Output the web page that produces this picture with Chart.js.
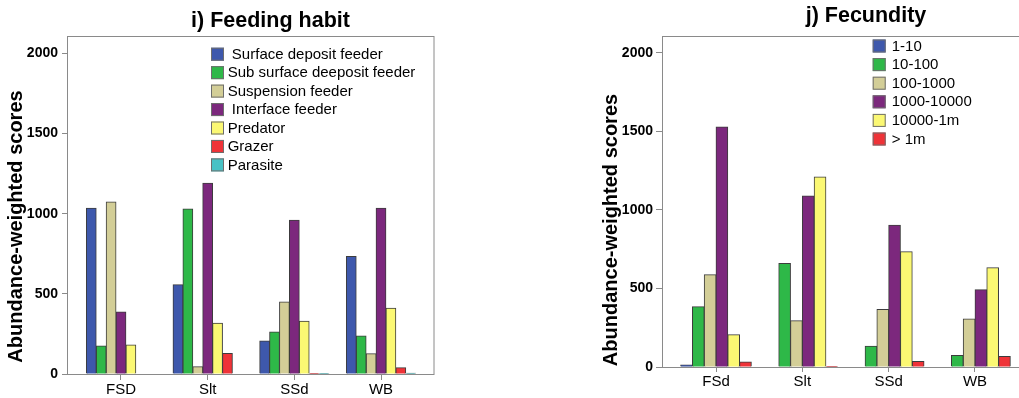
<!DOCTYPE html>
<html>
<head>
<meta charset="utf-8">
<script src="https://cdn.jsdelivr.net/npm/chart.js@4.4.0/dist/chart.umd.min.js"></script>
<style>
    html, body { margin: 0; padding: 0; background: #fff; overflow: hidden; width: 1019px; height: 398px; }
    #feedingChart { position: absolute; left: 0; top: 0; }
    #fecundityChart { position: absolute; left: 590px; top: 0; }
</style>
</head>
<body>
<canvas id="feedingChart" width="541" height="398"></canvas>
<canvas id="fecundityChart" width="480" height="398"></canvas>
<script>
// i) Feeding habit
const feedingSites = ['FSD', 'Slt', 'SSd', 'WB'];
const surfaceDeposit = [1035, 558, 206, 733];
const subSurfaceDeposit = [175, 1029, 262, 237];
const suspension = [1073, 46, 450, 127];
const interfaceFeeder = [387, 1190, 960, 1035];
const predator = [181, 317, 329, 410];
const grazer = [0, 129, 2, 40];
const parasite = [0, 0, 2, 5];

// j) Fecundity
const fecunditySites = ['FSd', 'Slt', 'SSd', 'WB'];
const fec1to10 = [13, 0, 0, 0];
const fec10to100 = [384, 660, 132, 74];
const fec100to1000 = [588, 295, 367, 306];
const fec1000to10000 = [1529, 1089, 904, 493];
const fec10000to1m = [206, 1210, 735, 633];
const fecOver1m = [32, 4, 36, 68];

const yTicks = [0, 500, 1000, 1500, 2000];

const FONT = "'Liberation Sans', Arial, sans-serif";
const AXIS_GRAY = '#8a8a8a';

// titles, y label, frame and legend are drawn here so they can sit where SPSS put them
const decorPlugin = {
    id: 'decor',
    beforeDatasetsDraw(chart, args, o) {
        const { ctx, chartArea: a } = chart;
        ctx.save();
        ctx.strokeStyle = AXIS_GRAY;
        ctx.lineWidth = 1;
        ctx.strokeRect(a.left - 0.5, a.top + 0.5, a.right - a.left + 0.5, a.bottom - a.top);
        ctx.restore();
    },
    afterDraw(chart, args, o) {
        const ctx = chart.ctx;
        ctx.save();
        ctx.fillStyle = '#000';

        ctx.font = 'bold 21.5px ' + FONT;
        ctx.textAlign = 'center';
        ctx.textBaseline = 'middle';
        ctx.fillText(o.title, o.titleX, o.titleY);

        ctx.save();
        ctx.translate(o.yLabelX, o.yLabelY);
        ctx.rotate(-Math.PI / 2);
        ctx.font = 'bold 20px ' + FONT;
        ctx.fillText('Abundance-weighted scores', 0, 0);
        ctx.restore();

        ctx.font = '15px ' + FONT;
        ctx.textAlign = 'left';
        chart.data.datasets.forEach((ds, i) => {
            const cy = o.legendY + i * o.legendRow;
            ctx.fillStyle = ds.backgroundColor;
            ctx.fillRect(o.legendX, cy - 6.5, 13, 13);
            ctx.strokeStyle = '#6e6e6e';
            ctx.strokeRect(o.legendX + 0.5, cy - 6, 12, 12);
            ctx.fillStyle = '#000';
            ctx.fillText(ds.label, o.legendTextX, cy + 0.5);
        });
        ctx.restore();
    }
};

function makeChart(canvasId, cfg) {
    const ctx = document.getElementById(canvasId).getContext('2d');
    const datasets = cfg.series.map(s => ({
        label: s.label,
        data: s.values.map((v, i) => ({ x: i, y: v })),
        backgroundColor: s.color,
        borderColor: '#3c3c3c',
        borderWidth: 1,
        borderSkipped: 'bottom',
        inflateAmount: 0.4,
        categoryPercentage: cfg.catPct,
        barPercentage: 1
    }));

    return new Chart(ctx, {
        type: 'bar',
        data: { datasets },
        plugins: [decorPlugin],
        options: {
            responsive: false,
            animation: false,
            devicePixelRatio: 1,
            layout: { padding: { left: 0, top: 36, right: cfg.padRight, bottom: 0 } },
            plugins: {
                legend: { display: false },
                title: { display: false },
                tooltip: { enabled: false },
                decor: cfg.decor
            },
            scales: {
                x: {
                    type: 'linear',
                    min: cfg.xMin,
                    max: cfg.xMax,
                    offset: false,
                    grid: { offset: false, drawOnChartArea: false, drawTicks: true, tickLength: cfg.xTickLen, color: AXIS_GRAY },
                    border: { display: false },
                    ticks: {
                        color: '#000',
                        font: { family: FONT, size: 15 },
                        padding: cfg.xPad,
                        autoSkip: false,
                        maxRotation: 0,
                        callback: v => cfg.labels[v] ?? ''
                    },
                    afterBuildTicks: s => { s.ticks = cfg.labels.map((_, i) => ({ value: i })); },
                    afterFit: s => { s.height = cfg.xHeight; }
                },
                y: {
                    min: 0,
                    max: 2108,
                    grid: { drawOnChartArea: false, drawTicks: true, tickLength: cfg.yTickLen, color: AXIS_GRAY },
                    border: { display: false },
                    ticks: {
                        color: '#000',
                        font: { family: FONT, size: 14, weight: 'bold' },
                        padding: cfg.yPad,
                        callback: v => String(v)
                    },
                    afterBuildTicks: s => { s.ticks = yTicks.map(v => ({ value: v })); },
                    afterFit: s => { s.width = cfg.yWidth; }
                }
            }
        }
    });
}

makeChart('feedingChart', {
    labels: feedingSites,
    series: [
        { label: ' Surface deposit feeder', values: surfaceDeposit, color: '#3E58AC' },
        { label: 'Sub surface deeposit feeder', values: subSurfaceDeposit, color: '#2EB848' },
        { label: 'Suspension feeder', values: suspension, color: '#D3CE97' },
        { label: ' Interface feeder', values: interfaceFeeder, color: '#7C287D' },
        { label: 'Predator', values: predator, color: '#FBF873' },
        { label: 'Grazer', values: grazer, color: '#EF3338' },
        { label: 'Parasite', values: parasite, color: '#48C2C5' }
    ],
    catPct: 0.8,
    xMin: -0.6115,
    xMax: 3.6115,
    padRight: 107,
    yWidth: 68,
    xHeight: 24,
    xTickLen: 6,
    xPad: 1,
    yTickLen: 6,
    yPad: 4,
    decor: {
        title: 'i) Feeding habit', titleX: 270.5, titleY: 21,
        yLabelX: 16.5, yLabelY: 226.5,
        legendX: 211, legendY: 54.2, legendRow: 18.45, legendTextX: 227.7
    }
});

makeChart('fecundityChart', {
    labels: fecunditySites,
    series: [
        { label: '1-10', values: fec1to10, color: '#3E58AC' },
        { label: '10-100', values: fec10to100, color: '#2EB848' },
        { label: '100-1000', values: fec100to1000, color: '#D3CE97' },
        { label: '1000-10000', values: fec1000to10000, color: '#7C287D' },
        { label: '10000-1m', values: fec10000to1m, color: '#FBF873' },
        { label: '> 1m', values: fecOver1m, color: '#EF3338' }
    ],
    catPct: 0.82,
    xMin: -0.614,
    xMax: 3.614,
    padRight: 42,
    yWidth: 73,
    xHeight: 31,
    xTickLen: 5,
    xPad: 1,
    yTickLen: 7,
    yPad: 3,
    decor: {
        title: 'j) Fecundity', titleX: 276, titleY: 16,
        yLabelX: 21.5, yLabelY: 230,
        legendX: 282.7, legendY: 46, legendRow: 18.6, legendTextX: 301.7
    }
});
</script>
</body>
</html>
